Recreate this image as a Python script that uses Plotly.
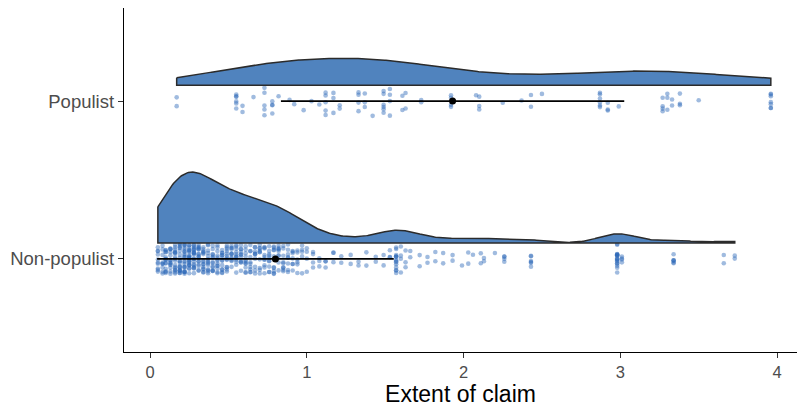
import numpy as np
import plotly.graph_objects as go

# ---- data ----
categories = ["Non-populist", "Populist"]
positions = [1, 2]

nonpop_values = [0.05, 0.08, 0.10, 0.13, 0.16, 0.19, 0.22, 0.25, 0.28, 0.31,
                 0.34, 0.37, 0.40, 0.43, 0.46, 0.49, 0.52, 0.55, 0.58, 0.61,
                 0.64, 0.67, 0.70, 0.73, 0.76, 0.79, 0.82, 0.85, 0.88, 0.91,
                 0.94, 0.97, 1.00, 1.04, 1.08, 1.12, 1.17, 1.22, 1.28, 1.33,
                 1.38, 1.44, 1.49, 1.53, 1.57, 1.60, 1.63, 1.66, 1.72, 1.77,
                 1.82, 1.87, 1.93, 1.99, 2.03, 2.06, 2.11, 2.13, 2.20, 2.26,
                 2.43, 2.98, 3.01, 3.34, 3.66, 3.73]
nonpop_counts = [10, 9, 14, 14, 17, 20, 22, 22, 20, 17,
                 15, 14, 13, 13, 13, 13, 12, 12, 11, 11,
                 10, 10, 10, 10, 10, 10, 9, 9, 8, 7,
                 6, 5, 4, 4, 3, 3, 3, 2, 2, 2,
                 2, 2, 2, 3, 14, 4, 3, 2, 2, 2,
                 2, 2, 2, 1, 2, 1, 2, 2, 1, 4,
                 6, 18, 4, 6, 2, 2]

pop_values = [0.17, 0.55, 0.59, 0.66, 0.73, 0.78, 0.82, 0.89, 0.92, 0.98,
              1.03, 1.08, 1.12, 1.17, 1.21, 1.33, 1.37, 1.42, 1.49, 1.53,
              1.61, 1.63, 1.73, 1.92, 2.08, 2.10, 2.25, 2.37, 2.43, 2.50,
              2.87, 2.92, 2.99, 3.27, 3.30, 3.33, 3.38, 3.50, 3.96]
pop_counts = [2, 6, 2, 1, 5, 4, 1, 1, 1, 1,
              1, 1, 5, 3, 2, 4, 3, 1, 6, 4,
              2, 2, 2, 4, 1, 3, 1, 1, 2, 1,
              6, 3, 1, 4, 3, 2, 3, 1, 7]

group_means = [0.80, 1.93]
group_sds = [0.755, 1.095]

# ---- styling ----
FILL = "#5083be"
POINT = "rgba(45,105,185,0.45)"
FONT = "Liberation Sans, Arial, sans-serif"
NUDGE = 0.1
HALF_WIDTH = 0.45

groups = [np.repeat(nonpop_values, nonpop_counts),
          np.repeat(pop_values, pop_counts)]


def bw_nrd0(x):
    sd = np.std(x, ddof=1)
    q75, q25 = np.percentile(x, [75, 25])
    lo = min(sd, (q75 - q25) / 1.34)
    return 0.9 * lo * len(x) ** -0.2


dens = []
for g in groups:
    grid = np.linspace(g.min(), g.max(), 512)
    bw = bw_nrd0(g)
    d = np.exp(-0.5 * ((grid[:, None] - g[None, :]) / bw) ** 2).sum(1) / (len(g) * bw * np.sqrt(2 * np.pi))
    dens.append((grid, d))
dmax = max(d.max() for _, d in dens)

fig = go.Figure()

for (grid, d), pos in zip(dens, positions):
    base = pos + NUDGE
    xs = np.concatenate([grid, grid[::-1], grid[:1]])
    ys = np.concatenate([base + d / dmax * HALF_WIDTH, np.full(len(grid), base),
                         [base + d[0] / dmax * HALF_WIDTH]])
    fig.add_trace(go.Scatter(x=xs, y=ys, mode="lines", fill="toself",
                             fillcolor=FILL, line=dict(color="#2b2b2b", width=1.5),
                             hoverinfo="skip", showlegend=False))

for g, pos in zip(groups, positions):
    fig.add_trace(go.Box(x=g, y0=pos, orientation="h", boxpoints="all",
                         jitter=1, pointpos=0, width=0.19,
                         fillcolor="rgba(0,0,0,0)",
                         line=dict(color="rgba(0,0,0,0)", width=0),
                         marker=dict(color=POINT, size=4.6),
                         showlegend=False))

fig.add_trace(go.Scatter(x=group_means, y=positions, mode="markers",
                         marker=dict(color="black", size=7),
                         error_x=dict(type="data", array=group_sds, symmetric=True,
                                      color="black", thickness=1.6, width=0),
                         showlegend=False))

fig.update_layout(
    width=798, height=408,
    margin=dict(l=124, r=1, t=8, b=56),
    plot_bgcolor="white", paper_bgcolor="white",
    font=dict(family=FONT),
    showlegend=False,
)
fig.update_xaxes(range=[-0.166, 4.127], showline=True, linecolor="black", linewidth=1.4,
                 ticks="outside", ticklen=5, tickwidth=1.3, tickcolor="#333333",
                 tickvals=[0, 1, 2, 3, 4],
                 tickfont=dict(size=16.5, color="#4d4d4d"),
                 showgrid=False, zeroline=False,
                 title=dict(text="Extent of claim", font=dict(size=23, color="black"), standoff=3))
fig.update_yaxes(range=[0.41, 2.59], showline=True, linecolor="black", linewidth=1.4,
                 ticks="outside", ticklen=5, tickwidth=1.3, tickcolor="#333333",
                 tickvals=positions, ticktext=categories,
                 tickfont=dict(size=18.5, color="#4d4d4d"),
                 showgrid=False, zeroline=False, automargin=False)

fig.write_html("out.html", config={"displayModeBar": False},
               post_script="document.body.style.margin='0';")
